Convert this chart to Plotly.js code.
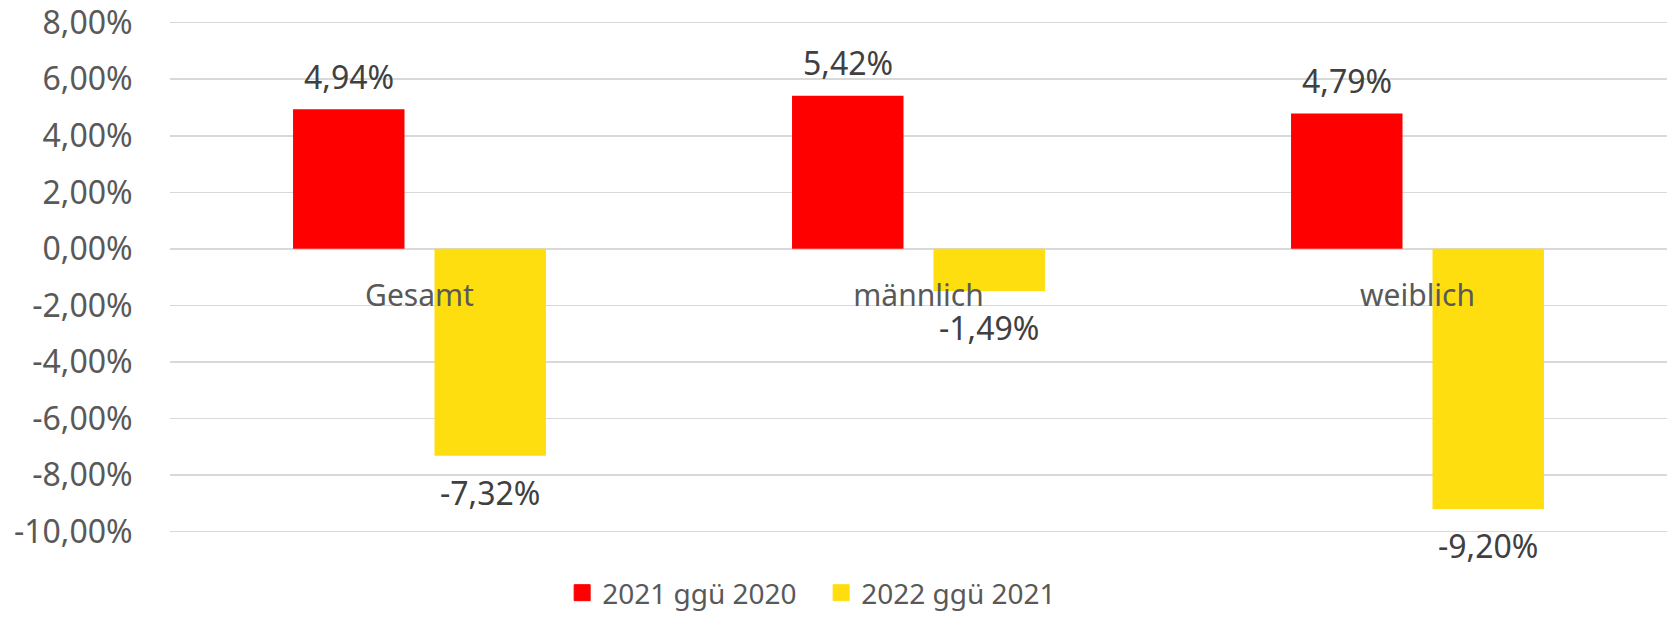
<!DOCTYPE html>
<html>
<head>
<meta charset="utf-8">
<script src="https://cdn.plot.ly/plotly-3.0.1.min.js"></script>
<style>html,body{margin:0;padding:0;background:#fff;}#chart{width:1669px;height:618px;}</style>
</head>
<body>
<div id="chart"></div>
<script>
const categories = ["Gesamt", "männlich", "weiblich"];
const series2021 = [4.94, 5.42, 4.79];
const series2022 = [-7.32, -1.49, -9.20];
const seriesNames = ["2021 ggü 2020", "2022 ggü 2021"];
const seriesColors = ["#FF0000", "#FFDE0F"];
const tickVals = [8, 6, 4, 2, 0, -2, -4, -6, -8, -10];
const tickText = ["8,00%", "6,00%", "4,00%", "2,00%", "0,00%", "-2,00%", "-4,00%", "-6,00%", "-8,00%", "-10,00%"];

const fmt = v => (v < 0 ? "-" : "") + Math.abs(v).toFixed(2).replace(".", ",") + "%";
const FONT = "Noto Sans, Open Sans, sans-serif";

const W = 1669, H = 618;
const M = {l: 170, r: 2, t: 21, b: 85};
const BARGAP = 0.433, BARGROUPGAP = 0.212;
const allSeries = [series2021, series2022];
const Y_MIN = -10.05, Y_MAX = 8.06;

const traces = [];
allSeries.forEach((vals, i) => {
  traces.push({
    type: "bar", name: seriesNames[i], x: categories, y: vals,
    marker: {color: seriesColors[i]}, showlegend: false, hoverinfo: "skip"
  });
});
// legend entries (larger square symbols)
allSeries.forEach((vals, i) => {
  traces.push({
    type: "scatter", mode: "markers", name: seriesNames[i], x: [null], y: [null],
    marker: {symbol: "square", size: 16, color: seriesColors[i], line: {width: 1, color: seriesColors[i]}},
    showlegend: true, hoverinfo: "skip"
  });
});

// data labels placed relative to bar ends
const catWidthPx = (W - M.l - M.r) / categories.length;
const slotPx = (1 - BARGAP) * catWidthPx / allSeries.length;
const annotations = [];
allSeries.forEach((vals, i) => {
  vals.forEach((v, j) => {
    annotations.push({
      x: categories[j], y: v, xref: "x", yref: "y",
      xshift: (i - (allSeries.length - 1) / 2) * slotPx,
      yshift: v >= 0 ? 33 : -37,
      text: fmt(v), showarrow: false, xanchor: "center", yanchor: "middle",
      font: {family: FONT, size: 32, color: "#404040"}
    });
  });
});

const layout = {
  width: W, height: H,
  margin: M,
  paper_bgcolor: "#fff", plot_bgcolor: "#fff",
  font: {family: FONT, size: 30, color: "#595959"},
  barmode: "group", bargap: BARGAP, bargroupgap: BARGROUPGAP,
  showlegend: true,
  legend: {orientation: "h", xref: "container", yref: "container",
           x: 0.492, xanchor: "center", y: 0, yanchor: "bottom",
           entrywidth: 214, entrywidthmode: "pixels",
           font: {family: FONT, size: 28, color: "#595959"}, itemwidth: 30},
  annotations: annotations,
  xaxis: {
    anchor: "free", position: (0 - Y_MIN) / (Y_MAX - Y_MIN),
    showgrid: false, zeroline: false, showline: false,
    ticks: "outside", ticklen: 20, tickcolor: "rgba(0,0,0,0)",
    tickfont: {family: FONT, size: 30, color: "#595959"}
  },
  yaxis: {
    range: [Y_MIN, Y_MAX], tickvals: tickVals, ticktext: tickText,
    ticklabeloverflow: "allow",
    showgrid: true, gridcolor: "#D9D9D9", gridwidth: 1.5,
    zeroline: true, zerolinecolor: "#D9D9D9", zerolinewidth: 1.5,
    showline: false,
    ticks: "outside", ticklen: 30, tickcolor: "rgba(0,0,0,0)",
    tickfont: {family: FONT, size: 32, color: "#595959"}
  }
};

Plotly.newPlot("chart", traces, layout, {displayModeBar: false, staticPlot: true});
</script>
</body>
</html>
